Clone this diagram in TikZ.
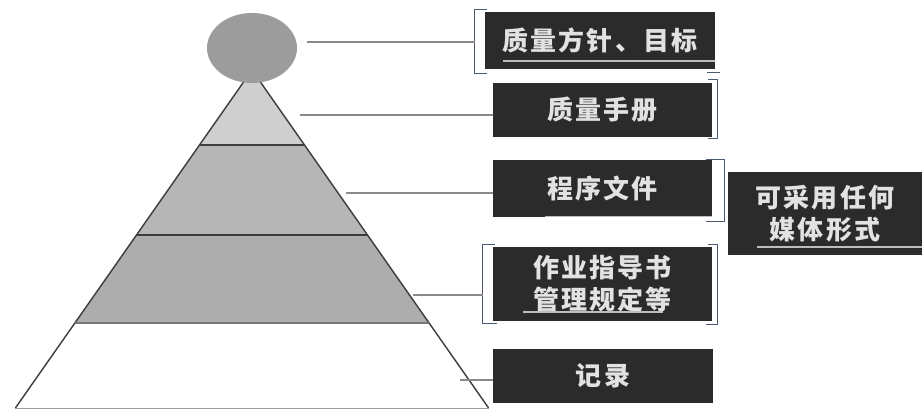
\documentclass[tikz,border=0pt]{standalone}
\usepackage{fontspec}
\newfontfamily\cjk{Noto Sans CJK SC}[LetterSpace=8]
\definecolor{boxbg}{HTML}{2B2B2B}
\definecolor{boxtx}{HTML}{E2E2E2}
\definecolor{conncol}{HTML}{8A8A8A}
\definecolor{edgecol}{HTML}{3C3C3C}
\definecolor{brkcol}{HTML}{4A5A70}
\definecolor{topband}{HTML}{CFCFCF}
\definecolor{midband}{HTML}{B6B6B6}
\definecolor{headcol}{HTML}{9C9C9C}
\begin{document}
\begin{tikzpicture}[x=1pt,y=-1pt,
  box/.style={fill=boxbg, text=boxtx, font=\cjk\bfseries\fontsize{26}{32}\selectfont, inner sep=0pt, align=center},
  conn/.style={draw=conncol, line width=1.1pt},
  brk/.style={draw=brkcol, line width=0.9pt},
  uline/.style={draw=boxtx!80!boxbg, line width=1.3pt},
  pyredge/.style={draw=edgecol, line width=1.4pt}]
\useasboundingbox (0,0) rectangle (922,410);
% pyramid
\coordinate (apex) at (252,70);
\coordinate (l1) at (199.5,145); \coordinate (r1) at (304.5,145);
\coordinate (l2) at (136.5,235); \coordinate (r2) at (367.5,235);
\coordinate (l3) at (74.9,323);  \coordinate (r3) at (429.1,323);
\coordinate (l4) at (15.4,408);  \coordinate (r4) at (488.6,408);
\fill[topband] (apex) -- (r1) -- (l1) -- cycle;
\fill[midband] (l1) -- (r1) -- (r2) -- (l2) -- cycle;
\fill[midband!95!black] (l2) -- (r2) -- (r3) -- (l3) -- cycle;
\draw[pyredge] (l4) -- (apex) -- (r4);
\draw[pyredge] (l1) -- (r1);
\draw[pyredge] (l2) -- (r2);
\draw[pyredge, draw=edgecol!70!white] (l3) -- (r3);
\draw[draw=edgecol!50!white, line width=1pt] (l4) -- (r4);
\fill[headcol] (252,48) ellipse [x radius=45, y radius=35];
% boxes
\node[box, minimum width=230pt, minimum height=57pt] (b1) at (600,40.5) {质量方针、目标};
\node[box, minimum width=219pt, minimum height=54pt] (b2) at (602.5,110) {质量手册};
\node[box, minimum width=219pt, minimum height=57pt] (b3) at (602.5,188.5) {程序文件};
\node[box, minimum width=219pt, minimum height=74pt] (b4) at (602.5,284) {作业指导书\\管理规定等};
\node[box, minimum width=194pt, minimum height=83pt] (b5) at (825,213.5) {可采用任何\\媒体形式};
\node[box, minimum width=220pt, minimum height=54pt] (b6) at (603,376) {记录};
% underlines
\draw[uline] (503,61) -- (715,61);
\draw[uline] (545,216.5) -- (712,216.5);
\draw[uline] (523,312) -- (663,312);
\draw[uline] (757,247) -- (922,247);
% brackets
\draw[brk] ([shift={(2,-2)}]b1.north west) -- ([shift={(-10,-2)}]b1.north west) -- ([shift={(-10,4)}]b1.south west) -- ([shift={(2,4)}]b1.south west);
\draw[brk] ([shift={(-8,3)}]b1.south east) -- ([shift={(5,3)}]b1.south east);
\draw[brk] ([shift={(-4,-3)}]b2.north east) -- ([shift={(5,-3)}]b2.north east) -- ([shift={(5,1)}]b2.south east) -- ([shift={(-4,1)}]b2.south east);
\draw[brk] ([shift={(-6,0)}]b3.north east) -- ([shift={(12,0)}]b3.north east) -- ([shift={(12,4)}]b3.south east) -- ([shift={(-6,4)}]b3.south east);
\draw[brk] ([shift={(2,-2)}]b4.north west) -- ([shift={(-10,-2)}]b4.north west) -- ([shift={(-10,2)}]b4.south west) -- ([shift={(4,2)}]b4.south west);
\draw[brk] ([shift={(-4,-2)}]b4.north east) -- ([shift={(5,-2)}]b4.north east) -- ([shift={(5,3)}]b4.south east) -- ([shift={(-6,3)}]b4.south east);
% connectors
\coordinate (c1) at (307,42);
\coordinate (c2) at (300,115);
\coordinate (c3) at (346,193);
\coordinate (c4) at (413,295);
\coordinate (c5) at (460,380);
\draw[conn] (c1) -- ([xshift=-10pt]b1.west |- c1);
\draw[conn] (c2) -- (b2.west |- c2);
\draw[conn] (c3) -- (b3.west |- c3);
\draw[conn] (c4) -- ([xshift=-10pt]b4.west |- c4);
\draw[conn] (c5) -- (b6.west |- c5);
\end{tikzpicture}
\end{document}
